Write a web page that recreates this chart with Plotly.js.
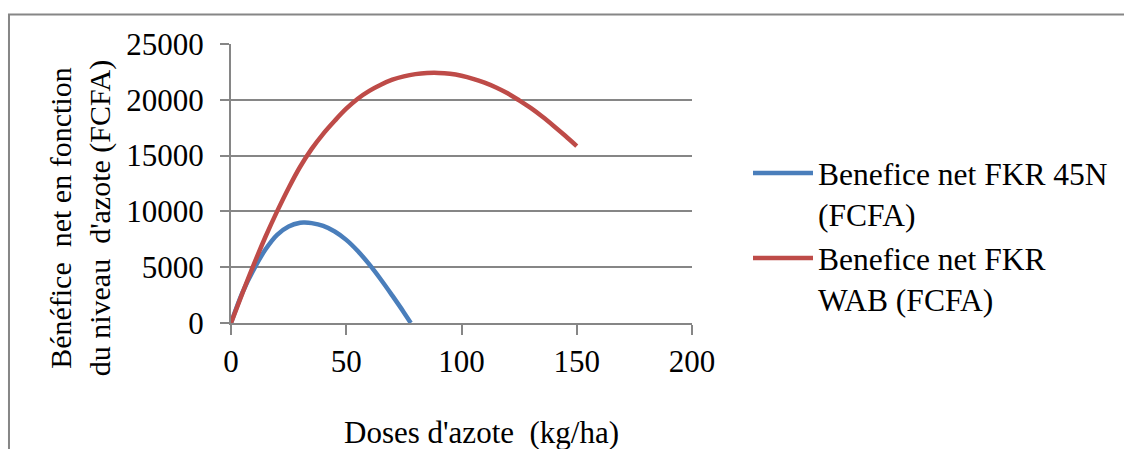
<!DOCTYPE html>
<html>
<head>
<meta charset="utf-8">
<script src="https://cdn.plot.ly/plotly-3.0.1.min.js"></script>
<style>html,body{margin:0;padding:0;background:#fff;}#chart{width:1124px;height:449px;}</style>
</head>
<body>
<div id="chart"></div>
<script>
// Doses d'azote (kg/ha)
const dosesWAB = [0, 5, 10, 15, 20, 25, 30, 35, 40, 45, 50, 55, 60, 65, 70, 75, 80, 85, 90, 95, 100, 105, 110, 115, 120, 125, 130, 135, 140, 145, 150];
const beneficeWAB = [0, 2700, 5300, 7750, 10000, 12100, 14000, 15600, 16950, 18120, 19200, 20100, 20800, 21350, 21800, 22100, 22300, 22400, 22410, 22330, 22150, 21880, 21530, 21100, 20580, 19950, 19270, 18500, 17660, 16780, 15850];
const doses45N = [0, 5, 10, 15, 20, 25, 30, 32, 35, 40, 45, 50, 55, 60, 65, 70, 75, 78];
const benefice45N = [0, 2750, 4850, 6600, 7900, 8650, 8980, 9000, 8950, 8700, 8200, 7450, 6450, 5250, 3900, 2450, 950, 0];
const seriesNames = ["Benefice net FKR 45N<br>(FCFA)", "Benefice net FKR<br>WAB (FCFA)"];
const xTickVals = [0, 50, 100, 150, 200];
const yTickVals = [0, 5000, 10000, 15000, 20000, 25000];
const xTitle = "Doses d'azote&nbsp; (kg/ha)";
const yTitle = "Bénéfice&nbsp; net en fonction<br>du niveau&nbsp; d'azote (FCFA)";

const FONT = "Times New Roman, Liberation Serif, Tinos, DejaVu Serif, serif";
const GRAY = "#868686";

const traces = [
  {x: doses45N, y: benefice45N, name: seriesNames[0], type: "scatter", mode: "lines",
   line: {color: "#4A7EBB", width: 4.5, shape: "spline"}},
  {x: dosesWAB, y: beneficeWAB, name: seriesNames[1], type: "scatter", mode: "lines",
   line: {color: "#BE4B48", width: 4.5, shape: "spline"}}
];

const L = 231, T = 44, PW = 462, PH = 279;
const layout = {
  width: 1124, height: 449,
  margin: {l: L, r: 1124 - L - PW, t: T, b: 449 - T - PH, pad: 0},
  paper_bgcolor: "#fff", plot_bgcolor: "#fff",
  font: {family: FONT, size: 30, color: "#000"},
  showlegend: true,
  legend: {x: (748 - L) / PW, xanchor: "left", y: (323 - 146) / PH, yanchor: "top",
           font: {family: FONT, size: 31.5, color: "#000"}, valign: "top",
           itemwidth: 60, tracegroupgap: 10, bgcolor: "rgba(0,0,0,0)"},
  xaxis: {range: [0, 200], tickvals: xTickVals, ticktext: xTickVals.map(String),
          showgrid: false, zeroline: false, showline: true, linecolor: GRAY, linewidth: 2,
          ticks: "outside", ticklen: 10, tickcolor: GRAY, tickwidth: 2,
          tickfont: {family: FONT, size: 31}, ticklabelstandoff: 0,
          fixedrange: true},
  yaxis: {range: [0, 25000], tickvals: yTickVals, ticktext: yTickVals.map(String),
          showgrid: true, gridcolor: GRAY, gridwidth: 2, zeroline: false,
          showline: true, linecolor: GRAY, linewidth: 2,
          ticks: "outside", ticklen: 9, tickcolor: GRAY, tickwidth: 2,
          tickfont: {family: FONT, size: 31}, ticklabelstandoff: 10,
          fixedrange: true},
  annotations: [
    {text: xTitle, xref: "paper", yref: "paper", x: (482 - L) / PW, y: (323 - 432) / PH,
     xanchor: "center", yanchor: "middle", showarrow: false, font: {family: FONT, size: 31}},
    {text: yTitle, xref: "paper", yref: "paper", x: (80 - L) / PW, y: (323 - 218) / PH,
     xanchor: "center", yanchor: "middle", showarrow: false, textangle: -90,
     font: {family: FONT, size: 30}}
  ],
  shapes: [
    {type: "rect", xref: "paper", yref: "paper",
     x0: (8.5 - L) / PW, x1: (1140 - L) / PW, y0: (323 - 470) / PH, y1: (323 - 14.5) / PH,
     line: {color: GRAY, width: 2}, fillcolor: "rgba(0,0,0,0)", layer: "below"}
  ]
};

Plotly.newPlot("chart", traces, layout, {displayModeBar: false, staticPlot: true});
</script>
</body>
</html>
